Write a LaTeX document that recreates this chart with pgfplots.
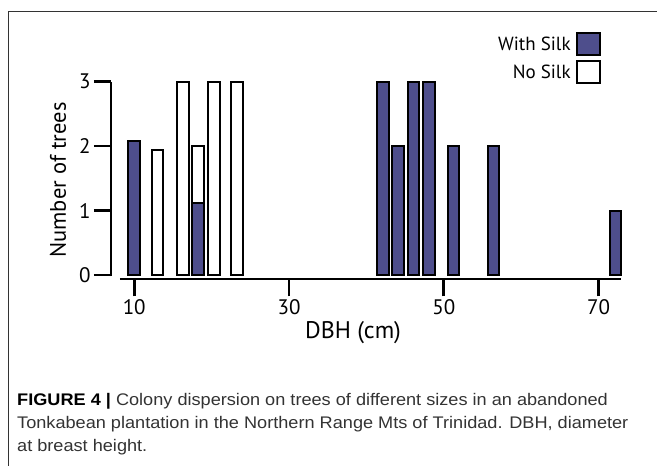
\documentclass[border=0pt]{standalone}
\usepackage{fontspec}
\setmainfont{PT Sans}
\newfontfamily\capfont{Liberation Sans}[FakeStretch=1.08]
\usepackage{pgfplots}
\pgfplotsset{compat=1.18}
\definecolor{silk}{RGB}{78,78,140}
\begin{document}
\begin{tikzpicture}[x=1pt,y=1pt]
\begin{axis}[
  scale only axis, width=510.8pt, height=197.6pt,
  xmin=7, xmax=73, ymin=-0.067, ymax=3,
  axis x line*=bottom, axis y line*=left,
  axis line style={draw=none},
  xtick={10,30,50,70}, ytick={0,1,2,3},
  xtick align=outside, ytick align=outside,
  major tick length=17pt,
  tick style={line width=2.6pt, black},
  /pgf/number format/assume math mode=true,
  tick label style={font=\fontsize{21}{21}\selectfont},
  label style={font=\fontsize{23}{23}\selectfont},
  xlabel={DBH (cm)}, ylabel={Number of trees},
  xlabel style={at={(axis description cs:0.4738,-0.2718)}, anchor=center, font=\fontsize{24}{24}\selectfont},
  ylabel style={at={(axis description cs:-0.1038,0.5025)}, anchor=center, font=\fontsize{22.5}{22.5}\selectfont},
  clip=false,
  legend style={at={(0.959,1.2515)}, anchor=north east, draw=none, fill=none,
    inner sep=0pt, row sep=4pt, font=\fontsize{19}{19}\selectfont,
    nodes={inner sep=1pt}, /tikz/column sep=4pt},
  legend cell align=right, legend plot pos=right,
  legend image code/.code={\draw[#1,draw=black,line width=2pt] (0pt,-11pt) rectangle (23pt,11pt);},
]
\addlegendimage{fill=silk}
\addlegendentry{With Silk}
\addlegendimage{fill=white}
\addlegendentry{No Silk}
\addplot[ybar, bar width=1.49, bar shift=0pt, fill=white, draw=black, line width=2pt, forget plot]
  coordinates {(13,1.94) (16.33,3) (18.27,2) (20.32,3) (23.27,3)};
\addplot[ybar, bar width=1.49, bar shift=0pt, fill=silk, draw=black, line width=2pt, forget plot]
  coordinates {(10,2.08) (18.27,1.12) (42.17,3) (44.1,2) (46.07,3) (48.07,3) (51.27,2) (56.43,2) (72.2,1)};
\draw[black, line width=2.6pt] (axis cs:7,-0.02) -- (axis cs:7,3);
\draw[black, line width=2pt] (axis cs:8.15,-0.067) -- (axis cs:72.9,-0.067);
\coordinate (O) at (axis description cs:0,0);
\end{axis}
\begin{scope}[shift={(O)}, xshift=-111pt, yshift=-186.7pt]
\path[use as bounding box] (0,0) rectangle (657,466);
\draw[black!80, line width=0.8pt] (8,0) -- (8,455) -- (657,455);
\begin{scope}[every node/.style={anchor=base west, inner sep=0pt, text=black!80, font=\capfont\fontsize{16.8}{20}\selectfont}]
\node at (17,61) {\textcolor{black}{\textbf{FIGURE 4 |}} Colony dispersion on trees of different sizes in an abandoned};
\node at (17,37.7) {Tonkabean plantation in the Northern Range Mts of Trinidad. DBH, diameter};
\node at (17,14.3) {at breast height.};
\end{scope}
\end{scope}
\end{tikzpicture}
\end{document}
